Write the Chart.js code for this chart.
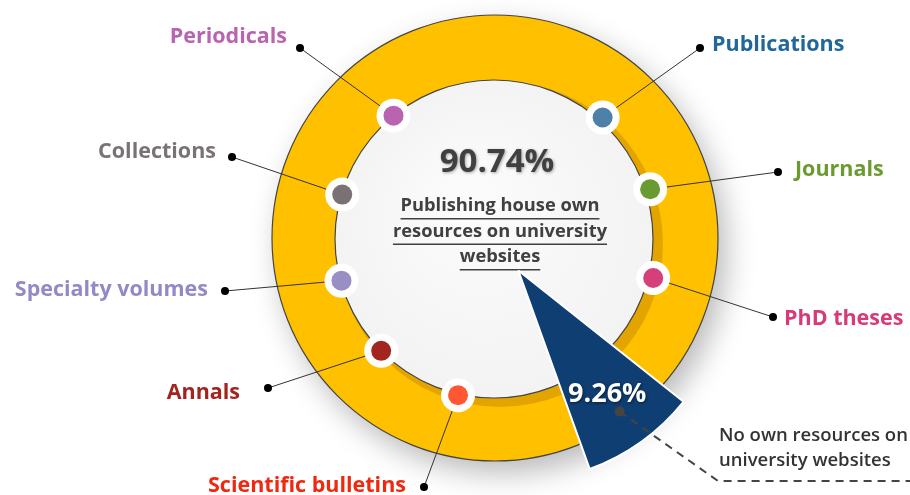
<!DOCTYPE html>
<html>
<head>
<meta charset="utf-8">
<script src="https://cdn.jsdelivr.net/npm/chart.js@4.4.1/dist/chart.umd.min.js"></script>
<style>
  body { margin: 0; background: #fff; }
  canvas { display: block; }
</style>
</head>
<body>
<canvas id="shareChart" width="910" height="495"></canvas>
<script>
// data
var shareLabels = ["Publishing house own resources on university websites", "No own resources on university websites"];
var shareValues = [90.74, 9.26];
var typeLabels = ["Periodicals", "Publications", "Journals", "PhD theses", "Scientific bulletins", "Annals", "Specialty volumes", "Collections"];
var typeTextColors = ["#b964b0", "#21679a", "#6b9a2f", "#d63a78", "#f0280f", "#a3231f", "#9488c6", "#7a7374"];
var typeDotColors = ["#b963b1", "#4f81a8", "#6a9a32", "#d6407a", "#ff5733", "#a32520", "#9a8fc4", "#797173"];

// layout of the callouts (relative to the ring centre)
var dotAngles = [-130, -49, -18, 14, 104, 136, 165, -164];
var endPts = [[-195, -190], [205, -190], [283, -66], [278, 79], [-71, 249], [-227, 150], [-270, 53], [-263, -81]];
var labelPts = [[-208, -201, "right"], [217, -193, "left"], [300, -68, "left"], [289, 81, "left"], [-89, 248, "right"], [-255, 155, "right"], [-287, 52, "right"], [-279, -86, "right"]];

var FONT = "'Open Sans', sans-serif";

function deg(a) { return a * Math.PI / 180; }

var decor = {
  id: "decor",
  beforeDatasetsDraw: function(chart) {
    var ctx = chart.ctx;
    var arc = chart.getDatasetMeta(0).data[0];
    var cx = arc.x, cy = arc.y;
    ctx.save();
    // soft shadow + yellow ring
    ctx.shadowColor = "rgba(0,0,0,0.28)";
    ctx.shadowBlur = 30;
    ctx.shadowOffsetX = 8;
    ctx.shadowOffsetY = 12;
    ctx.beginPath();
    ctx.arc(cx, cy, 223, 0, Math.PI * 2);
    ctx.fillStyle = "#ffc000";
    ctx.fill();
    ctx.shadowColor = "transparent";
    ctx.lineWidth = 1.2;
    ctx.strokeStyle = "#444";
    ctx.stroke();
    // darker band under the inner disk
    ctx.beginPath();
    ctx.arc(cx + 5, cy + 6, 163, 0, Math.PI * 2);
    ctx.fillStyle = "#e3a400";
    ctx.fill();
    // inner disk
    var g = ctx.createRadialGradient(cx - 30, cy - 40, 20, cx, cy, 160);
    g.addColorStop(0, "#fbfbfb");
    g.addColorStop(1, "#f3f3f3");
    ctx.beginPath();
    ctx.arc(cx - 1, cy + 1, 159, 0, Math.PI * 2);
    ctx.fillStyle = g;
    ctx.fill();
    ctx.lineWidth = 1.2;
    ctx.strokeStyle = "#444";
    ctx.stroke();

    // leader lines
    ctx.lineWidth = 1;
    ctx.strokeStyle = "#333";
    for (var i = 0; i < typeLabels.length; i++) {
      var a = deg(dotAngles[i]);
      var dx = cx + 2 + Math.cos(a) * 161, dy = cy + 1 + Math.sin(a) * 161;
      ctx.beginPath();
      ctx.moveTo(dx, dy);
      ctx.lineTo(cx + endPts[i][0], cy + endPts[i][1]);
      ctx.stroke();
      ctx.beginPath();
      ctx.arc(cx + endPts[i][0], cy + endPts[i][1], 4, 0, Math.PI * 2);
      ctx.fillStyle = "#000";
      ctx.fill();
    }
    // dots
    for (var j = 0; j < typeLabels.length; j++) {
      var b = deg(dotAngles[j]);
      var px = cx + 2 + Math.cos(b) * 161, py = cy + 1 + Math.sin(b) * 161;
      ctx.beginPath();
      ctx.arc(px, py, 17, 0, Math.PI * 2);
      ctx.fillStyle = "#fff";
      ctx.fill();
      ctx.beginPath();
      ctx.arc(px, py, 10, 0, Math.PI * 2);
      ctx.fillStyle = typeDotColors[j];
      ctx.fill();
    }
    // category labels
    ctx.font = "bold 21.5px " + FONT;
    ctx.textBaseline = "middle";
    for (var k = 0; k < typeLabels.length; k++) {
      ctx.textAlign = labelPts[k][2];
      ctx.fillStyle = typeTextColors[k];
      ctx.fillText(typeLabels[k], cx + labelPts[k][0], cy + labelPts[k][1]);
    }

    // centre text
    ctx.textAlign = "center";
    ctx.fillStyle = "#404040";
    ctx.shadowColor = "rgba(0,0,0,0.35)";
    ctx.shadowBlur = 3;
    ctx.shadowOffsetX = 1;
    ctx.shadowOffsetY = 1;
    ctx.font = "bold 33px " + FONT;
    ctx.fillText(shareValues[0].toFixed(2) + "%", cx + 2, cy - 75);
    ctx.shadowColor = "transparent";
    ctx.font = "bold 18.3px " + FONT;
    var lines = ["Publishing house own", "resources on university", "websites"];
    for (var m = 0; m < lines.length; m++) {
      var ly = cy - 32 + m * 25.5;
      ctx.fillText(lines[m], cx + 5, ly);
      var w = ctx.measureText(lines[m]).width;
      ctx.fillRect(cx + 5 - w / 2, ly + 12, w, 1.5);
    }
    ctx.restore();
  },
  afterDatasetsDraw: function(chart) {
    var ctx = chart.ctx;
    var arc = chart.getDatasetMeta(0).data[1];
    var mid = (arc.startAngle + arc.endAngle) / 2;
    var off = arc.options.offset / 4; // the arc is drawn shifted by offset / 4
    var r = arc.outerRadius;
    ctx.save();
    // leader for the small slice
    var sx = arc.x + Math.cos(mid) * (off + r * 0.9);
    var sy = arc.y + Math.sin(mid) * (off + r * 0.9);
    ctx.setLineDash([8, 6]);
    ctx.lineWidth = 2;
    ctx.strokeStyle = "#444";
    ctx.beginPath();
    ctx.moveTo(sx, sy);
    ctx.lineTo(718, 481);
    ctx.lineTo(910, 481);
    ctx.stroke();
    ctx.setLineDash([]);
    ctx.beginPath();
    ctx.arc(sx, sy, 5, 0, Math.PI * 2);
    ctx.fillStyle = "#444";
    ctx.fill();
    // value label
    var tx = arc.x + Math.cos(mid) * (off + r * 0.79);
    var ty = arc.y + Math.sin(mid) * (off + r * 0.79);
    ctx.font = "bold 27px " + FONT;
    ctx.textAlign = "center";
    ctx.textBaseline = "middle";
    ctx.fillStyle = "#fff";
    ctx.shadowColor = "rgba(0,0,0,0.5)";
    ctx.shadowBlur = 3;
    ctx.shadowOffsetX = 1;
    ctx.shadowOffsetY = 1;
    ctx.fillText(shareValues[1].toFixed(2) + "%", tx, ty);
    ctx.shadowColor = "transparent";
    // slice caption
    ctx.font = "600 18.5px " + FONT;
    ctx.textAlign = "left";
    ctx.fillStyle = "#333";
    ctx.fillText("No own resources on", 719, 436);
    ctx.fillText("university websites", 719, 461);
    ctx.restore();
  }
};

var ctx = document.getElementById("shareChart");
var pie = new Chart(ctx, {
  type: "pie",
  data: {
    labels: shareLabels,
    datasets: [{
      data: shareValues,
      backgroundColor: ["rgba(0,0,0,0)", "#0f3e73"],
      borderColor: ["rgba(0,0,0,0)", "#ffffff"],
      borderWidth: [0, 2],
      offset: [0, 160]
    }]
  },
  options: {
    responsive: false,
    animation: false,
    radius: 193,
    rotation: -199,
    layout: { padding: { left: 80, top: 0, right: 0, bottom: 19 } },
    plugins: {
      legend: { display: false },
      tooltip: { enabled: false }
    }
  },
  plugins: [decor]
});
</script>
</body>
</html>
